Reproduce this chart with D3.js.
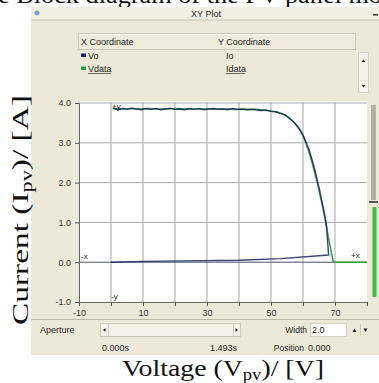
<!DOCTYPE html>
<html>
<head>
<meta charset="utf-8">
<script src="https://cdn.jsdelivr.net/npm/d3@7"></script>
<style>
  body { margin: 0; background: #fff; }
  svg { display: block; }
  .ui { font-family: "Liberation Sans", Arial, sans-serif; font-size: 9px; fill: #222; }
  .serif { font-family: "Liberation Serif", "Times New Roman", serif; fill: #111; }
</style>
</head>
<body>
<div id="chart"></div>
<script>
// axis ticks
var xTicks = [-10, 0, 10, 20, 30, 40, 50, 60, 70, 80];
var xTickLabels = [-10, 10, 30, 50, 70];
var yTicks = [-1, 0, 1, 2, 3, 4];
var yTickLabels = ['-1.0', '0.0', '1.0', '2.0', '3.0', '4.0'];

// legend rows
var seriesNames = [['Vo', 'Io'], ['Vdata', 'Idata']];

// measured data (green)
var vData = [0.5, 3, 6, 9, 12, 15, 18, 21, 24, 27, 30, 33, 36, 39, 42, 45, 48, 50, 52, 54,
    55.5, 57, 58.5, 60, 61.5, 63, 64.5, 66, 67, 68, 69, 69.5, 72, 76, 80];
var iData = [3.86, 3.85, 3.86, 3.85, 3.86, 3.85, 3.85, 3.86, 3.85, 3.85, 3.85, 3.85, 3.85, 3.84, 3.84, 3.84, 3.82, 3.80, 3.77, 3.71,
    3.64, 3.53, 3.39, 3.20, 2.86, 2.46, 1.98, 1.45, 1.05, 0.60, 0.18, 0, 0, 0, 0];

// simulated output (blue)
var vo = [0.6, 2, 3.5, 5, 6.5, 8, 9.5, 11, 12.5, 14, 15.5, 17, 18.5, 20, 21.5, 23, 24.5, 26, 27.5, 29,
    30.5, 32, 33.5, 35, 36.5, 38, 39.5, 41, 42.5, 44, 45.5, 47, 48.5, 50, 51.5, 53, 54.5, 56, 57.5, 59,
    60.5, 62, 63.5, 65, 66.5, 67.3, 68, 53, 40, 10, 0];
var io = [3.87, 3.83, 3.86, 3.84, 3.87, 3.85, 3.83, 3.86, 3.84, 3.86, 3.83, 3.85, 3.87, 3.84, 3.85, 3.83, 3.86, 3.84, 3.86, 3.83,
    3.85, 3.86, 3.84, 3.85, 3.83, 3.86, 3.84, 3.85, 3.83, 3.84, 3.83, 3.81, 3.82, 3.79, 3.78, 3.74, 3.70, 3.60, 3.49, 3.33,
    3.10, 2.80, 2.38, 1.88, 1.30, 0.95, 0.18, 0.09, 0.05, 0.02, 0.00];

var W = 379, H = 383;
var beige = '#ece9d8';

var svg = d3.select('#chart').append('svg')
    .attr('width', W)
    .attr('height', H);

var x = d3.scaleLinear().domain([-10, 80]).range([79, 367]);
var y = d3.scaleLinear().domain([-1, 4]).range([302, 103]);

// caption cut off at top
svg.append('text')
    .attr('class', 'serif')
    .attr('x', -2).attr('y', 3)
    .style('font-size', '24px')
    .attr('textLength', 384)
    .attr('lengthAdjust', 'spacingAndGlyphs')
    .text('e Block diagram of the PV panel mo');

// window
svg.append('rect')
    .attr('x', 31).attr('y', 7)
    .attr('width', W - 31).attr('height', 348)
    .attr('fill', beige);

// title bar
svg.append('rect')
    .attr('x', 31).attr('y', 7)
    .attr('width', W - 31).attr('height', 13)
    .attr('fill', '#f1efe4');
svg.append('line')
    .attr('x1', 31).attr('x2', W).attr('y1', 20).attr('y2', 20)
    .attr('stroke', '#c9c5b2');
svg.append('circle')
    .attr('cx', 37).attr('cy', 13).attr('r', 2.5)
    .attr('fill', '#7f9fc8');
svg.append('text')
    .attr('class', 'ui')
    .attr('x', 206).attr('y', 16.5)
    .attr('text-anchor', 'middle')
    .text('XY Plot');
svg.append('rect')
    .attr('x', 373).attr('y', 14).attr('width', 5).attr('height', 1.5)
    .attr('fill', '#333');

// legend header
svg.append('rect')
    .attr('x', 78.5).attr('y', 33.5)
    .attr('width', 277).attr('height', 16)
    .attr('fill', '#eeebdc')
    .attr('stroke', '#cbc7b4');
svg.append('line')
    .attr('x1', 79).attr('x2', 355).attr('y1', 34.5).attr('y2', 34.5)
    .attr('stroke', '#fbfaf4');
svg.append('text').attr('class', 'ui').attr('x', 81).attr('y', 45).text('X Coordinate');
svg.append('text').attr('class', 'ui').attr('x', 218).attr('y', 45).text('Y Coordinate');

var legendColors = ['#1f237a', '#2f9a3c'];
var legendRows = svg.append('g').selectAll('g')
    .data(seriesNames)
    .join('g')
    .attr('transform', function(d, i) { return 'translate(0,' + (59 + i * 13) + ')'; });
legendRows.append('rect')
    .attr('x', 81).attr('y', -5.5).attr('width', 5).attr('height', 3.5)
    .attr('fill', function(d, i) { return legendColors[i]; });
legendRows.append('text')
    .attr('class', 'ui')
    .attr('x', 88).attr('y', 0)
    .text(function(d) { return d[0]; });
legendRows.append('text')
    .attr('class', 'ui')
    .attr('x', 226).attr('y', 0)
    .text(function(d) { return d[1]; });
legendRows.filter(function(d, i) { return i === 1; })
    .each(function() {
        var g = d3.select(this);
        g.append('line').attr('x1', 88).attr('x2', 111).attr('y1', 1.5).attr('y2', 1.5).attr('stroke', '#333').attr('stroke-width', 0.7);
        g.append('line').attr('x1', 226).attr('x2', 245).attr('y1', 1.5).attr('y2', 1.5).attr('stroke', '#333').attr('stroke-width', 0.7);
    });

// legend scrollbar
svg.append('rect')
    .attr('x', 358.5).attr('y', 52.5).attr('width', 10).attr('height', 40)
    .attr('fill', '#f3f1e8').attr('stroke', '#d6d2c0');
svg.append('path').attr('d', 'M361.5,62 L363.5,59.5 L365.5,62 Z').attr('fill', '#222');
svg.append('path').attr('d', 'M361.5,85 L363.5,87.5 L365.5,85 Z').attr('fill', '#222');

// plot area
svg.append('rect')
    .attr('x', x(-10)).attr('y', y(4) - 2)
    .attr('width', x(80) - x(-10)).attr('height', y(-1) - y(4) + 2)
    .attr('fill', '#fff');

// grid
svg.append('g')
    .selectAll('line')
    .data(xTicks.filter(function(d) { return d > -10 && d < 80; }))
    .join('line')
    .attr('x1', function(d) { return x(d); })
    .attr('x2', function(d) { return x(d); })
    .attr('y1', y(4)).attr('y2', y(-1))
    .attr('stroke', '#a9a9a9');
svg.append('g')
    .selectAll('line')
    .data(yTicks.filter(function(d) { return d > -1 && d !== 0; }))
    .join('line')
    .attr('x1', x(-10)).attr('x2', x(80))
    .attr('y1', function(d) { return y(d); })
    .attr('y2', function(d) { return y(d); })
    .attr('stroke', '#a9a9a9');

// axes
var xAxis = d3.axisBottom(x)
    .tickValues(xTicks)
    .tickSize(4)
    .tickFormat(function(d) { return xTickLabels.indexOf(d) >= 0 ? d : ''; });
var gx = svg.append('g')
    .attr('transform', 'translate(0,' + y(-1) + ')')
    .call(xAxis);
var yAxis = d3.axisLeft(y)
    .tickValues(yTicks)
    .tickSize(4)
    .tickFormat(function(d, i) { return yTickLabels[i]; });
var gy = svg.append('g')
    .attr('transform', 'translate(' + x(-10) + ',0)')
    .call(yAxis);
[gx, gy].forEach(function(g) {
    g.select('.domain').attr('stroke', '#666');
    g.selectAll('.tick line').attr('stroke', '#555');
    g.selectAll('text')
        .attr('fill', '#333')
        .style('font-family', '"Liberation Sans", Arial, sans-serif')
        .style('font-size', '9px');
});
gx.selectAll('text').attr('dy', '0.75em');
gy.selectAll('text').attr('dx', '-1');

// zero line
svg.append('line')
    .attr('x1', x(-10)).attr('x2', x(80))
    .attr('y1', y(0)).attr('y2', y(0))
    .attr('stroke', '#4a4d6a');

// series
var line = d3.line()
    .x(function(d) { return x(d[0]); })
    .y(function(d) { return y(d[1]); });

svg.append('path')
    .datum(d3.zip(vData, iData))
    .attr('d', line)
    .attr('fill', 'none')
    .attr('stroke', '#38a046')
    .attr('stroke-width', 1.6);

svg.append('path')
    .datum(d3.zip(vo, io))
    .attr('d', line)
    .attr('fill', 'none')
    .attr('stroke', '#1c2458')
    .attr('stroke-width', 1.4)
    .attr('stroke-opacity', 0.85);

// cursor axis markers
var markers = [
    { t: '-x', px: x(-10) + 2, py: y(0) - 3 },
    { t: '+x', px: x(75), py: y(0) - 4 },
    { t: '+y', px: x(0) + 1, py: y(4) + 6 },
    { t: '-y', px: x(0), py: y(-1) - 3 }
];
svg.append('g')
    .selectAll('text')
    .data(markers)
    .join('text')
    .attr('class', 'ui')
    .style('font-size', '8px')
    .attr('fill', '#444')
    .attr('x', function(d) { return d.px; })
    .attr('y', function(d) { return d.py; })
    .text(function(d) { return d.t; });

// right side scrollbar / level bar
svg.append('rect').attr('x', 371).attr('y', 105).attr('width', 5).attr('height', 95).attr('fill', '#b3b1a6');
svg.append('rect').attr('x', 369).attr('y', 201).attr('width', 9).attr('height', 2).attr('fill', '#555');
svg.append('rect').attr('x', 372.5).attr('y', 207).attr('width', 4).attr('height', 90).attr('fill', '#3fbf3f');

// separator above controls
svg.append('line')
    .attr('x1', 31).attr('x2', W).attr('y1', 319.5).attr('y2', 319.5)
    .attr('stroke', '#bcb8a6');

// aperture row
svg.append('text').attr('class', 'ui').attr('x', 40).attr('y', 333).text('Aperture');
svg.append('rect')
    .attr('x', 100.5).attr('y', 323.5).attr('width', 140).attr('height', 13)
    .attr('fill', '#f4f2ea').attr('stroke', '#cfcbb9');
svg.append('path').attr('d', 'M103,330 L105.5,328 L105.5,332 Z').attr('fill', '#222');
svg.append('line').attr('x1', 108.5).attr('x2', 108.5).attr('y1', 324).attr('y2', 336).attr('stroke', '#cfcbb9');
svg.append('line').attr('x1', 233.5).attr('x2', 233.5).attr('y1', 324).attr('y2', 336).attr('stroke', '#cfcbb9');
svg.append('path').attr('d', 'M238,330 L235.5,328 L235.5,332 Z').attr('fill', '#222');

svg.append('text').attr('class', 'ui').attr('x', 307).attr('y', 333)
    .attr('text-anchor', 'end').style('font-size', '8.5px').text('Width');
svg.append('rect')
    .attr('x', 310.5).attr('y', 323.5).attr('width', 36).attr('height', 13)
    .attr('fill', '#fff').attr('stroke', '#d8d4c2');
svg.append('text').attr('class', 'ui').attr('x', 312).attr('y', 333).text('2.0');
svg.append('path').attr('d', 'M352.5,332 L354.5,328.5 L356.5,332 Z').attr('fill', '#222');
svg.append('line').attr('x1', 360.5).attr('x2', 360.5).attr('y1', 324).attr('y2', 336).attr('stroke', '#cfcbb9');
svg.append('path').attr('d', 'M363.5,328.5 L365.5,332 L367.5,328.5 Z').attr('fill', '#222');

// time row
svg.append('text').attr('class', 'ui').attr('x', 102).attr('y', 351).text('0.000s');
svg.append('text').attr('class', 'ui').attr('x', 210).attr('y', 351).text('1.493s');
svg.append('text').attr('class', 'ui').attr('x', 304).attr('y', 351)
    .attr('text-anchor', 'end').style('font-size', '8.5px').text('Position');
svg.append('text').attr('class', 'ui').attr('x', 308).attr('y', 351).text('0.000');

// axis titles
var xTitle = svg.append('text')
    .attr('class', 'serif')
    .attr('x', 122).attr('y', 376)
    .style('font-size', '24px')
    .attr('textLength', 202)
    .attr('lengthAdjust', 'spacingAndGlyphs');
xTitle.append('tspan').text('Voltage (V');
xTitle.append('tspan').attr('dy', 4).style('font-size', '16px').text('pv');
xTitle.append('tspan').attr('dy', -4).text(')/ [V]');

var yTitle = svg.append('text')
    .attr('class', 'serif')
    .attr('transform', 'translate(28,325) rotate(-90)')
    .style('font-size', '24px')
    .attr('textLength', 230)
    .attr('lengthAdjust', 'spacingAndGlyphs');
yTitle.append('tspan').text('Current (I');
yTitle.append('tspan').attr('dy', 4).style('font-size', '16px').text('pv');
yTitle.append('tspan').attr('dy', -4).text(')/ [A]');
</script>
</body>
</html>
